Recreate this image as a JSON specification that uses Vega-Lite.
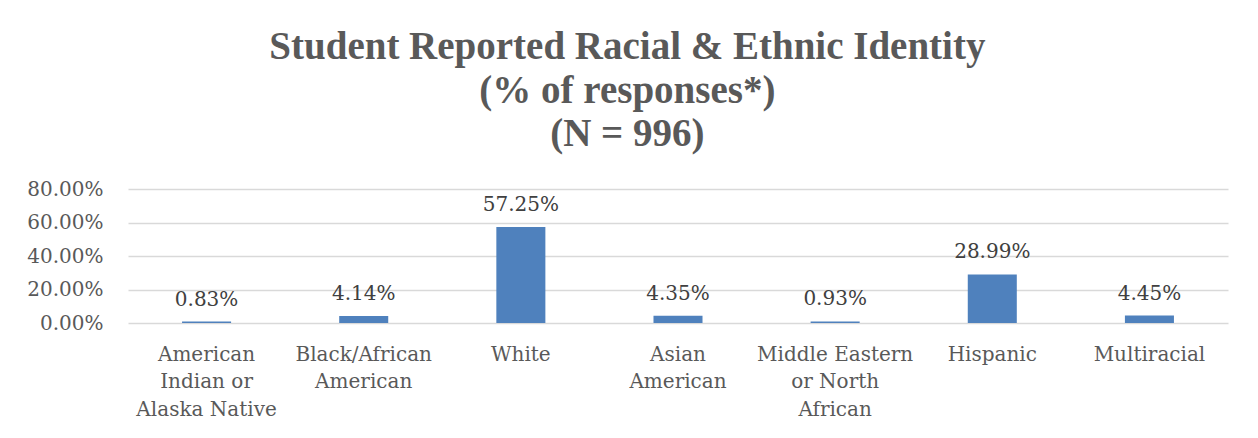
{
  "$schema": "https://vega.github.io/schema/vega-lite/v6.json",
  "width": 1100,
  "height": 134,
  "autosize": {"type": "none"},
  "padding": {"left": 128, "top": 189, "right": 30, "bottom": 115},
  "background": "white",
  "title": {
    "text": ["Student Reported Racial & Ethnic Identity", "(% of responses*)", "(N = 996)"],
    "font": "Liberation Serif",
    "fontWeight": "bold",
    "fontSize": 39,
    "lineHeight": 43.5,
    "color": "#595959",
    "anchor": "middle",
    "frame": "bounds",
    "offset": 25
  },
  "data": {
    "values": [
      {"group": "American Indian or Alaska Native", "share": 0.0083},
      {"group": "Black/African American", "share": 0.0414},
      {"group": "White", "share": 0.5725},
      {"group": "Asian American", "share": 0.0435},
      {"group": "Middle Eastern or North African", "share": 0.0093},
      {"group": "Hispanic", "share": 0.2899},
      {"group": "Multiracial", "share": 0.0445}
    ]
  },
  "encoding": {
    "x": {
      "field": "group",
      "type": "nominal",
      "sort": null,
      "scale": {"paddingInner": 0.688, "paddingOuter": 0.344},
      "axis": {
        "title": null,
        "labelAngle": 0,
        "ticks": false,
        "domain": false,
        "labelPadding": 21,
        "labelFont": "DejaVu Serif",
        "labelFontSize": 20,
        "labelColor": "#595959",
        "labelBaseline": "top",
        "labelLineHeight": 27.5,
        "labelExpr": "datum.value == 'American Indian or Alaska Native' ? ['American', 'Indian or', 'Alaska Native'] : datum.value == 'Black/African American' ? ['Black/African', 'American'] : datum.value == 'Asian American' ? ['Asian', 'American'] : datum.value == 'Middle Eastern or North African' ? ['Middle Eastern', 'or North', 'African'] : datum.value"
      }
    },
    "y": {
      "field": "share",
      "type": "quantitative",
      "scale": {"domain": [0, 0.8], "nice": false},
      "axis": {
        "title": null,
        "format": ".2%",
        "values": [0, 0.2, 0.4, 0.6, 0.8],
        "ticks": false,
        "domain": false,
        "labelPadding": 25,
        "labelFont": "DejaVu Serif",
        "labelFontSize": 20,
        "labelColor": "#595959",
        "gridColor": "#D9D9D9",
        "gridWidth": 1.5
      }
    }
  },
  "layer": [
    {"mark": {"type": "bar", "color": "#4F81BD"}},
    {
      "mark": {"type": "text", "font": "DejaVu Serif", "fontSize": 20, "color": "#404040", "baseline": "alphabetic", "dy": -16},
      "encoding": {"text": {"field": "share", "type": "quantitative", "format": ".2%"}}
    }
  ],
  "config": {"view": {"stroke": null}}
}
